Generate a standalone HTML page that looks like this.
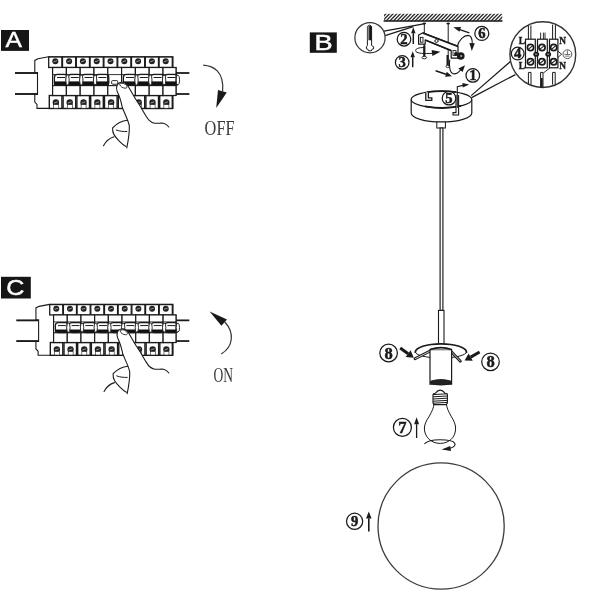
<!DOCTYPE html>
<html lang="en">
<head>
<meta charset="utf-8">
<title>Pendant lamp installation</title>
<style>
html,body{margin:0;padding:0;background:#fff;}
body{width:600px;height:600px;overflow:hidden;font-family:"Liberation Sans",sans-serif;}
svg{display:block;will-change:transform;}
</style>
</head>
<body>
<svg width="600" height="600" viewBox="0 0 600 600">
<rect x="0" y="0" width="600" height="600" fill="#ffffff"/>
<g id="stepA">
<g transform="translate(0,0)">
<line x1="15" y1="73" x2="37.5" y2="73" stroke="#1a1a1a" stroke-width="1.9"/>
<line x1="176" y1="73" x2="189.4" y2="73" stroke="#1a1a1a" stroke-width="1.8"/>
<line x1="15" y1="94" x2="37.5" y2="94" stroke="#1a1a1a" stroke-width="1.9"/>
<line x1="176" y1="94" x2="189.4" y2="94" stroke="#1a1a1a" stroke-width="1.8"/>
<path d="M48.5 56.8 L38 58.8 L34.8 60.4 L34.8 72.5 L37.5 72.5 L37.5 94.5 L34.8 94.5 L34.8 102 L37 104.4 L37 108.4 L173 108.4 L173 95.5 L176 95.5 L176 67.5 L173 67.5 L173 56.8 Z" fill="#fff" stroke="#1a1a1a" stroke-width="1.1"/>
<rect x="48.7" y="57" width="13.2" height="10.5" fill="#fff" stroke="#1a1a1a" stroke-width="1.3"/>
<circle cx="55.3" cy="61.2" r="3" fill="#222"/>
<line x1="53.5" y1="61.8" x2="57.1" y2="60.6" stroke="#ccc" stroke-width="0.7"/>
<rect x="49.3" y="95.5" width="12.6" height="13" fill="#fff" stroke="#1a1a1a" stroke-width="1.4"/>
<circle cx="55.9" cy="102.4" r="3.2" fill="#222"/>
<line x1="54.1" y1="103" x2="57.7" y2="101.8" stroke="#ccc" stroke-width="0.7"/>
<rect x="53.5" y="104.6" width="5" height="3.6" fill="#fff" stroke="#1a1a1a" stroke-width="0.6"/>
<rect x="62.5" y="57" width="13.2" height="10.5" fill="#fff" stroke="#1a1a1a" stroke-width="1.3"/>
<circle cx="69.1" cy="61.2" r="3" fill="#222"/>
<line x1="67.3" y1="61.8" x2="70.9" y2="60.6" stroke="#ccc" stroke-width="0.7"/>
<rect x="63.1" y="95.5" width="12.6" height="13" fill="#fff" stroke="#1a1a1a" stroke-width="1.4"/>
<circle cx="69.7" cy="102.4" r="3.2" fill="#222"/>
<line x1="67.9" y1="103" x2="71.5" y2="101.8" stroke="#ccc" stroke-width="0.7"/>
<rect x="67.3" y="104.6" width="5" height="3.6" fill="#fff" stroke="#1a1a1a" stroke-width="0.6"/>
<rect x="76.3" y="57" width="13.2" height="10.5" fill="#fff" stroke="#1a1a1a" stroke-width="1.3"/>
<circle cx="82.9" cy="61.2" r="3" fill="#222"/>
<line x1="81.1" y1="61.8" x2="84.7" y2="60.6" stroke="#ccc" stroke-width="0.7"/>
<rect x="76.9" y="95.5" width="12.6" height="13" fill="#fff" stroke="#1a1a1a" stroke-width="1.4"/>
<circle cx="83.5" cy="102.4" r="3.2" fill="#222"/>
<line x1="81.7" y1="103" x2="85.3" y2="101.8" stroke="#ccc" stroke-width="0.7"/>
<rect x="81.1" y="104.6" width="5" height="3.6" fill="#fff" stroke="#1a1a1a" stroke-width="0.6"/>
<rect x="90.1" y="57" width="13.2" height="10.5" fill="#fff" stroke="#1a1a1a" stroke-width="1.3"/>
<circle cx="96.7" cy="61.2" r="3" fill="#222"/>
<line x1="94.9" y1="61.8" x2="98.5" y2="60.6" stroke="#ccc" stroke-width="0.7"/>
<rect x="90.7" y="95.5" width="12.6" height="13" fill="#fff" stroke="#1a1a1a" stroke-width="1.4"/>
<circle cx="97.3" cy="102.4" r="3.2" fill="#222"/>
<line x1="95.5" y1="103" x2="99.1" y2="101.8" stroke="#ccc" stroke-width="0.7"/>
<rect x="94.9" y="104.6" width="5" height="3.6" fill="#fff" stroke="#1a1a1a" stroke-width="0.6"/>
<rect x="103.9" y="57" width="13.2" height="10.5" fill="#fff" stroke="#1a1a1a" stroke-width="1.3"/>
<circle cx="110.5" cy="61.2" r="3" fill="#222"/>
<line x1="108.7" y1="61.8" x2="112.3" y2="60.6" stroke="#ccc" stroke-width="0.7"/>
<rect x="104.5" y="95.5" width="12.6" height="13" fill="#fff" stroke="#1a1a1a" stroke-width="1.4"/>
<circle cx="111.1" cy="102.4" r="3.2" fill="#222"/>
<line x1="109.3" y1="103" x2="112.9" y2="101.8" stroke="#ccc" stroke-width="0.7"/>
<rect x="108.7" y="104.6" width="5" height="3.6" fill="#fff" stroke="#1a1a1a" stroke-width="0.6"/>
<rect x="117.7" y="57" width="13.2" height="10.5" fill="#fff" stroke="#1a1a1a" stroke-width="1.3"/>
<circle cx="124.3" cy="61.2" r="3" fill="#222"/>
<line x1="122.5" y1="61.8" x2="126.1" y2="60.6" stroke="#ccc" stroke-width="0.7"/>
<rect x="118.3" y="95.5" width="12.6" height="13" fill="#fff" stroke="#1a1a1a" stroke-width="1.4"/>
<circle cx="124.9" cy="102.4" r="3.2" fill="#222"/>
<line x1="123.1" y1="103" x2="126.7" y2="101.8" stroke="#ccc" stroke-width="0.7"/>
<rect x="122.5" y="104.6" width="5" height="3.6" fill="#fff" stroke="#1a1a1a" stroke-width="0.6"/>
<rect x="131.5" y="57" width="13.2" height="10.5" fill="#fff" stroke="#1a1a1a" stroke-width="1.3"/>
<circle cx="138.1" cy="61.2" r="3" fill="#222"/>
<line x1="136.3" y1="61.8" x2="139.9" y2="60.6" stroke="#ccc" stroke-width="0.7"/>
<rect x="132.1" y="95.5" width="12.6" height="13" fill="#fff" stroke="#1a1a1a" stroke-width="1.4"/>
<circle cx="138.7" cy="102.4" r="3.2" fill="#222"/>
<line x1="136.9" y1="103" x2="140.5" y2="101.8" stroke="#ccc" stroke-width="0.7"/>
<rect x="136.3" y="104.6" width="5" height="3.6" fill="#fff" stroke="#1a1a1a" stroke-width="0.6"/>
<rect x="145.3" y="57" width="13.2" height="10.5" fill="#fff" stroke="#1a1a1a" stroke-width="1.3"/>
<circle cx="151.9" cy="61.2" r="3" fill="#222"/>
<line x1="150.1" y1="61.8" x2="153.7" y2="60.6" stroke="#ccc" stroke-width="0.7"/>
<rect x="145.9" y="95.5" width="12.6" height="13" fill="#fff" stroke="#1a1a1a" stroke-width="1.4"/>
<circle cx="152.5" cy="102.4" r="3.2" fill="#222"/>
<line x1="150.7" y1="103" x2="154.3" y2="101.8" stroke="#ccc" stroke-width="0.7"/>
<rect x="150.1" y="104.6" width="5" height="3.6" fill="#fff" stroke="#1a1a1a" stroke-width="0.6"/>
<rect x="159.1" y="57" width="13.2" height="10.5" fill="#fff" stroke="#1a1a1a" stroke-width="1.3"/>
<circle cx="165.7" cy="61.2" r="3" fill="#222"/>
<line x1="163.9" y1="61.8" x2="167.5" y2="60.6" stroke="#ccc" stroke-width="0.7"/>
<rect x="159.7" y="95.5" width="12.6" height="13" fill="#fff" stroke="#1a1a1a" stroke-width="1.4"/>
<circle cx="166.3" cy="102.4" r="3.2" fill="#222"/>
<line x1="164.5" y1="103" x2="168.1" y2="101.8" stroke="#ccc" stroke-width="0.7"/>
<rect x="163.9" y="104.6" width="5" height="3.6" fill="#fff" stroke="#1a1a1a" stroke-width="0.6"/>
<rect x="52.6" y="67.5" width="13.8" height="28" fill="#fff" stroke="#1a1a1a" stroke-width="1.2"/>
<line x1="52.6" y1="74.6" x2="66.4" y2="74.6" stroke="#1a1a1a" stroke-width="0.9"/>
<line x1="52.6" y1="85.6" x2="66.4" y2="85.6" stroke="#1a1a1a" stroke-width="1.1"/>
<rect x="66.4" y="67.5" width="13.8" height="28" fill="#fff" stroke="#1a1a1a" stroke-width="1.2"/>
<line x1="66.4" y1="74.6" x2="80.2" y2="74.6" stroke="#1a1a1a" stroke-width="0.9"/>
<line x1="66.4" y1="85.6" x2="80.2" y2="85.6" stroke="#1a1a1a" stroke-width="1.1"/>
<rect x="80.2" y="67.5" width="13.8" height="28" fill="#fff" stroke="#1a1a1a" stroke-width="1.2"/>
<line x1="80.2" y1="74.6" x2="94.0" y2="74.6" stroke="#1a1a1a" stroke-width="0.9"/>
<line x1="80.2" y1="85.6" x2="94.0" y2="85.6" stroke="#1a1a1a" stroke-width="1.1"/>
<rect x="94.0" y="67.5" width="13.8" height="28" fill="#fff" stroke="#1a1a1a" stroke-width="1.2"/>
<line x1="94.0" y1="74.6" x2="107.8" y2="74.6" stroke="#1a1a1a" stroke-width="0.9"/>
<line x1="94.0" y1="85.6" x2="107.8" y2="85.6" stroke="#1a1a1a" stroke-width="1.1"/>
<rect x="107.8" y="67.5" width="13.8" height="28" fill="#fff" stroke="#1a1a1a" stroke-width="1.2"/>
<line x1="107.8" y1="74.6" x2="121.6" y2="74.6" stroke="#1a1a1a" stroke-width="0.9"/>
<line x1="107.8" y1="85.6" x2="121.6" y2="85.6" stroke="#1a1a1a" stroke-width="1.1"/>
<rect x="121.6" y="67.5" width="13.8" height="28" fill="#fff" stroke="#1a1a1a" stroke-width="1.2"/>
<line x1="121.6" y1="74.6" x2="135.4" y2="74.6" stroke="#1a1a1a" stroke-width="0.9"/>
<line x1="121.6" y1="85.6" x2="135.4" y2="85.6" stroke="#1a1a1a" stroke-width="1.1"/>
<rect x="135.4" y="67.5" width="13.8" height="28" fill="#fff" stroke="#1a1a1a" stroke-width="1.2"/>
<line x1="135.4" y1="74.6" x2="149.2" y2="74.6" stroke="#1a1a1a" stroke-width="0.9"/>
<line x1="135.4" y1="85.6" x2="149.2" y2="85.6" stroke="#1a1a1a" stroke-width="1.1"/>
<rect x="149.2" y="67.5" width="13.8" height="28" fill="#fff" stroke="#1a1a1a" stroke-width="1.2"/>
<line x1="149.2" y1="74.6" x2="163.0" y2="74.6" stroke="#1a1a1a" stroke-width="0.9"/>
<line x1="149.2" y1="85.6" x2="163.0" y2="85.6" stroke="#1a1a1a" stroke-width="1.1"/>
<rect x="163.0" y="67.5" width="13.0" height="28" fill="#fff" stroke="#1a1a1a" stroke-width="1.2"/>
<line x1="163.0" y1="74.6" x2="176.0" y2="74.6" stroke="#1a1a1a" stroke-width="0.9"/>
<line x1="163.0" y1="85.6" x2="176.0" y2="85.6" stroke="#1a1a1a" stroke-width="1.1"/>
<rect x="54.0" y="81.4" width="13.6" height="3.9" fill="#111"/>
<rect x="54.4" y="74.4" width="13" height="11.0" rx="3" fill="none" stroke="#1a1a1a" stroke-width="1.3"/>
<line x1="57.0" y1="77.5" x2="65.0" y2="77.5" stroke="#1a1a1a" stroke-width="1"/>
<rect x="67.8" y="81.4" width="13.6" height="3.9" fill="#111"/>
<rect x="68.2" y="74.4" width="13" height="11.0" rx="3" fill="none" stroke="#1a1a1a" stroke-width="1.3"/>
<line x1="70.8" y1="77.5" x2="78.8" y2="77.5" stroke="#1a1a1a" stroke-width="1"/>
<rect x="81.6" y="81.4" width="13.6" height="3.9" fill="#111"/>
<rect x="82.0" y="74.4" width="13" height="11.0" rx="3" fill="none" stroke="#1a1a1a" stroke-width="1.3"/>
<line x1="84.6" y1="77.5" x2="92.6" y2="77.5" stroke="#1a1a1a" stroke-width="1"/>
<rect x="95.4" y="81.4" width="13.6" height="3.9" fill="#111"/>
<rect x="95.8" y="74.4" width="13" height="11.0" rx="3" fill="none" stroke="#1a1a1a" stroke-width="1.3"/>
<line x1="98.4" y1="77.5" x2="106.4" y2="77.5" stroke="#1a1a1a" stroke-width="1"/>
<rect x="111.6" y="80.6" width="6.2" height="3.6" rx="1" fill="#fff" stroke="#1a1a1a" stroke-width="0.9"/>
<rect x="123.0" y="81.4" width="13.6" height="3.9" fill="#111"/>
<rect x="123.4" y="74.4" width="13" height="11.0" rx="3" fill="none" stroke="#1a1a1a" stroke-width="1.3"/>
<line x1="126.0" y1="77.5" x2="134.0" y2="77.5" stroke="#1a1a1a" stroke-width="1"/>
<rect x="136.8" y="81.4" width="13.6" height="3.9" fill="#111"/>
<rect x="137.2" y="74.4" width="13" height="11.0" rx="3" fill="none" stroke="#1a1a1a" stroke-width="1.3"/>
<line x1="139.8" y1="77.5" x2="147.8" y2="77.5" stroke="#1a1a1a" stroke-width="1"/>
<rect x="150.6" y="81.4" width="13.6" height="3.9" fill="#111"/>
<rect x="151.0" y="74.4" width="13" height="11.0" rx="3" fill="none" stroke="#1a1a1a" stroke-width="1.3"/>
<line x1="153.6" y1="77.5" x2="161.6" y2="77.5" stroke="#1a1a1a" stroke-width="1"/>
<rect x="164.4" y="81.4" width="13.6" height="3.9" fill="#111"/>
<rect x="164.8" y="74.4" width="13" height="11.0" rx="3" fill="none" stroke="#1a1a1a" stroke-width="1.3"/>
<line x1="167.4" y1="77.5" x2="175.4" y2="77.5" stroke="#1a1a1a" stroke-width="1"/>
<ellipse cx="67.5" cy="80" rx="1.7" ry="4.9" fill="#fff" stroke="#1a1a1a" stroke-width="0.9"/>
<ellipse cx="81.3" cy="80" rx="1.7" ry="4.9" fill="#fff" stroke="#1a1a1a" stroke-width="0.9"/>
<ellipse cx="95.1" cy="80" rx="1.7" ry="4.9" fill="#fff" stroke="#1a1a1a" stroke-width="0.9"/>
<ellipse cx="136.5" cy="80" rx="1.7" ry="4.9" fill="#fff" stroke="#1a1a1a" stroke-width="0.9"/>
<ellipse cx="150.3" cy="80" rx="1.7" ry="4.9" fill="#fff" stroke="#1a1a1a" stroke-width="0.9"/>
<ellipse cx="164.1" cy="80" rx="1.7" ry="4.9" fill="#fff" stroke="#1a1a1a" stroke-width="0.9"/>
<ellipse cx="177.9" cy="80" rx="1.7" ry="4.9" fill="#fff" stroke="#1a1a1a" stroke-width="0.9"/>
<g transform="translate(0,0)">
<path d="M126.8 148 C128.4 140 129.6 131 129.3 125.5 C128 120 124.5 113 122.3 107.5 C121 101 120 97 117.2 91.5 C115.6 87 117 83.5 120 82.6 C123 81.6 126 83 128 86 C130 89.5 131.5 92 133.5 95.5 C136 100 139 104 141 107.5 C143 111 144.5 114 146.3 116.5 C148 119.5 151 122.5 154.5 123.2 C158 123.6 161 122.8 163.5 123.3 C166 124 167.6 125.4 168.8 127 L168.8 150 Z" fill="#fff" stroke="none"/>
<path d="M127.5 120.2 C123 120.6 117.5 122.6 112.6 127.8 C112.4 131 113 133 114 134.6 C116 138 122 144.5 126 146.6 Z" fill="#fff" stroke="none"/>
<path d="M126.8 148 C128.4 140 129.6 131 129.3 125.5 C128 120 124.5 113 122.3 107.5 C121 101 120 97 117.2 91.5 C115.6 87 117 83.5 120 82.6 C123 81.6 126 83 128 86 C130 89.5 131.5 92 133.5 95.5 C136 100 139 104 141 107.5 C143 111 144.5 114 146.3 116.5 C148 119.5 151 122.5 154.5 123.2 C158 123.6 161 122.8 163.5 123.3 C166 124 167.6 125.4 168.8 127" fill="none" stroke="#1a1a1a" stroke-width="1.1" stroke-linejoin="round" stroke-linecap="round"/>
<path d="M127.5 120.2 C123 120.6 117.5 122.6 112.6 127.8 C112.4 131 113 133 114 134.6 C116 138 122 144.5 126 146.6" fill="none" stroke="#1a1a1a" stroke-width="1.1" stroke-linecap="round"/>
<path d="M116.3 130 C120 131.4 123 131.6 126.8 131.5" fill="none" stroke="#1a1a1a" stroke-width="1" stroke-linecap="round"/>
<path d="M114 136.8 C110 138 106 141 103.5 145.8" fill="none" stroke="#1a1a1a" stroke-width="1.1" stroke-linecap="round"/>
<path d="M119.6 84.4 C121 82.6 124.6 83 126.6 85.6 C127.6 87.2 126.8 88.4 125 88.2 C122.6 88 120.4 86.6 119.6 84.4 Z" fill="#fff" stroke="#1a1a1a" stroke-width="0.9"/>
</g>
</g>
<rect x="1" y="30" width="28" height="20.9" fill="#161616"/><text x="0" y="0" transform="translate(13.6,47.4) scale(1.1,1)" font-family="'Liberation Sans', sans-serif" font-size="22.4" fill="#fff" stroke="#fff" stroke-width="0.45" text-anchor="middle">A</text>
<path d="M203.2 65.2 C213 66 224.4 71 222.6 91.4" fill="none" stroke="#333" stroke-width="1.2"/>
<polygon points="216.2,108 218,90 226.8,92.6" fill="#1a1a1a"/>
<text transform="translate(204.6,135.2) scale(0.76,1)" font-family="'Liberation Serif', serif" font-size="21.5" fill="#3a3a3a">OFF</text>
</g>
<g id="stepC">
<g transform="translate(176,330.7) scale(0.992,0.985) translate(-176,-83.5)">
<line x1="15" y1="73" x2="37.5" y2="73" stroke="#1a1a1a" stroke-width="1.9"/>
<line x1="176" y1="73" x2="189.4" y2="73" stroke="#1a1a1a" stroke-width="1.8"/>
<line x1="15" y1="94" x2="37.5" y2="94" stroke="#1a1a1a" stroke-width="1.9"/>
<line x1="176" y1="94" x2="189.4" y2="94" stroke="#1a1a1a" stroke-width="1.8"/>
<path d="M48.5 56.8 L38 58.8 L34.8 60.4 L34.8 72.5 L37.5 72.5 L37.5 94.5 L34.8 94.5 L34.8 102 L37 104.4 L37 108.4 L173 108.4 L173 95.5 L176 95.5 L176 67.5 L173 67.5 L173 56.8 Z" fill="#fff" stroke="#1a1a1a" stroke-width="1.1"/>
<rect x="48.7" y="57" width="13.2" height="10.5" fill="#fff" stroke="#1a1a1a" stroke-width="1.3"/>
<circle cx="55.3" cy="61.2" r="3" fill="#222"/>
<line x1="53.5" y1="61.8" x2="57.1" y2="60.6" stroke="#ccc" stroke-width="0.7"/>
<rect x="49.3" y="95.5" width="12.6" height="13" fill="#fff" stroke="#1a1a1a" stroke-width="1.4"/>
<circle cx="55.9" cy="102.4" r="3.2" fill="#222"/>
<line x1="54.1" y1="103" x2="57.7" y2="101.8" stroke="#ccc" stroke-width="0.7"/>
<rect x="53.5" y="104.6" width="5" height="3.6" fill="#fff" stroke="#1a1a1a" stroke-width="0.6"/>
<rect x="62.5" y="57" width="13.2" height="10.5" fill="#fff" stroke="#1a1a1a" stroke-width="1.3"/>
<circle cx="69.1" cy="61.2" r="3" fill="#222"/>
<line x1="67.3" y1="61.8" x2="70.9" y2="60.6" stroke="#ccc" stroke-width="0.7"/>
<rect x="63.1" y="95.5" width="12.6" height="13" fill="#fff" stroke="#1a1a1a" stroke-width="1.4"/>
<circle cx="69.7" cy="102.4" r="3.2" fill="#222"/>
<line x1="67.9" y1="103" x2="71.5" y2="101.8" stroke="#ccc" stroke-width="0.7"/>
<rect x="67.3" y="104.6" width="5" height="3.6" fill="#fff" stroke="#1a1a1a" stroke-width="0.6"/>
<rect x="76.3" y="57" width="13.2" height="10.5" fill="#fff" stroke="#1a1a1a" stroke-width="1.3"/>
<circle cx="82.9" cy="61.2" r="3" fill="#222"/>
<line x1="81.1" y1="61.8" x2="84.7" y2="60.6" stroke="#ccc" stroke-width="0.7"/>
<rect x="76.9" y="95.5" width="12.6" height="13" fill="#fff" stroke="#1a1a1a" stroke-width="1.4"/>
<circle cx="83.5" cy="102.4" r="3.2" fill="#222"/>
<line x1="81.7" y1="103" x2="85.3" y2="101.8" stroke="#ccc" stroke-width="0.7"/>
<rect x="81.1" y="104.6" width="5" height="3.6" fill="#fff" stroke="#1a1a1a" stroke-width="0.6"/>
<rect x="90.1" y="57" width="13.2" height="10.5" fill="#fff" stroke="#1a1a1a" stroke-width="1.3"/>
<circle cx="96.7" cy="61.2" r="3" fill="#222"/>
<line x1="94.9" y1="61.8" x2="98.5" y2="60.6" stroke="#ccc" stroke-width="0.7"/>
<rect x="90.7" y="95.5" width="12.6" height="13" fill="#fff" stroke="#1a1a1a" stroke-width="1.4"/>
<circle cx="97.3" cy="102.4" r="3.2" fill="#222"/>
<line x1="95.5" y1="103" x2="99.1" y2="101.8" stroke="#ccc" stroke-width="0.7"/>
<rect x="94.9" y="104.6" width="5" height="3.6" fill="#fff" stroke="#1a1a1a" stroke-width="0.6"/>
<rect x="103.9" y="57" width="13.2" height="10.5" fill="#fff" stroke="#1a1a1a" stroke-width="1.3"/>
<circle cx="110.5" cy="61.2" r="3" fill="#222"/>
<line x1="108.7" y1="61.8" x2="112.3" y2="60.6" stroke="#ccc" stroke-width="0.7"/>
<rect x="104.5" y="95.5" width="12.6" height="13" fill="#fff" stroke="#1a1a1a" stroke-width="1.4"/>
<circle cx="111.1" cy="102.4" r="3.2" fill="#222"/>
<line x1="109.3" y1="103" x2="112.9" y2="101.8" stroke="#ccc" stroke-width="0.7"/>
<rect x="108.7" y="104.6" width="5" height="3.6" fill="#fff" stroke="#1a1a1a" stroke-width="0.6"/>
<rect x="117.7" y="57" width="13.2" height="10.5" fill="#fff" stroke="#1a1a1a" stroke-width="1.3"/>
<circle cx="124.3" cy="61.2" r="3" fill="#222"/>
<line x1="122.5" y1="61.8" x2="126.1" y2="60.6" stroke="#ccc" stroke-width="0.7"/>
<rect x="118.3" y="95.5" width="12.6" height="13" fill="#fff" stroke="#1a1a1a" stroke-width="1.4"/>
<circle cx="124.9" cy="102.4" r="3.2" fill="#222"/>
<line x1="123.1" y1="103" x2="126.7" y2="101.8" stroke="#ccc" stroke-width="0.7"/>
<rect x="122.5" y="104.6" width="5" height="3.6" fill="#fff" stroke="#1a1a1a" stroke-width="0.6"/>
<rect x="131.5" y="57" width="13.2" height="10.5" fill="#fff" stroke="#1a1a1a" stroke-width="1.3"/>
<circle cx="138.1" cy="61.2" r="3" fill="#222"/>
<line x1="136.3" y1="61.8" x2="139.9" y2="60.6" stroke="#ccc" stroke-width="0.7"/>
<rect x="132.1" y="95.5" width="12.6" height="13" fill="#fff" stroke="#1a1a1a" stroke-width="1.4"/>
<circle cx="138.7" cy="102.4" r="3.2" fill="#222"/>
<line x1="136.9" y1="103" x2="140.5" y2="101.8" stroke="#ccc" stroke-width="0.7"/>
<rect x="136.3" y="104.6" width="5" height="3.6" fill="#fff" stroke="#1a1a1a" stroke-width="0.6"/>
<rect x="145.3" y="57" width="13.2" height="10.5" fill="#fff" stroke="#1a1a1a" stroke-width="1.3"/>
<circle cx="151.9" cy="61.2" r="3" fill="#222"/>
<line x1="150.1" y1="61.8" x2="153.7" y2="60.6" stroke="#ccc" stroke-width="0.7"/>
<rect x="145.9" y="95.5" width="12.6" height="13" fill="#fff" stroke="#1a1a1a" stroke-width="1.4"/>
<circle cx="152.5" cy="102.4" r="3.2" fill="#222"/>
<line x1="150.7" y1="103" x2="154.3" y2="101.8" stroke="#ccc" stroke-width="0.7"/>
<rect x="150.1" y="104.6" width="5" height="3.6" fill="#fff" stroke="#1a1a1a" stroke-width="0.6"/>
<rect x="159.1" y="57" width="13.2" height="10.5" fill="#fff" stroke="#1a1a1a" stroke-width="1.3"/>
<circle cx="165.7" cy="61.2" r="3" fill="#222"/>
<line x1="163.9" y1="61.8" x2="167.5" y2="60.6" stroke="#ccc" stroke-width="0.7"/>
<rect x="159.7" y="95.5" width="12.6" height="13" fill="#fff" stroke="#1a1a1a" stroke-width="1.4"/>
<circle cx="166.3" cy="102.4" r="3.2" fill="#222"/>
<line x1="164.5" y1="103" x2="168.1" y2="101.8" stroke="#ccc" stroke-width="0.7"/>
<rect x="163.9" y="104.6" width="5" height="3.6" fill="#fff" stroke="#1a1a1a" stroke-width="0.6"/>
<rect x="52.6" y="67.5" width="13.8" height="28" fill="#fff" stroke="#1a1a1a" stroke-width="1.2"/>
<line x1="52.6" y1="74.6" x2="66.4" y2="74.6" stroke="#1a1a1a" stroke-width="0.9"/>
<line x1="52.6" y1="85.6" x2="66.4" y2="85.6" stroke="#1a1a1a" stroke-width="1.1"/>
<rect x="66.4" y="67.5" width="13.8" height="28" fill="#fff" stroke="#1a1a1a" stroke-width="1.2"/>
<line x1="66.4" y1="74.6" x2="80.2" y2="74.6" stroke="#1a1a1a" stroke-width="0.9"/>
<line x1="66.4" y1="85.6" x2="80.2" y2="85.6" stroke="#1a1a1a" stroke-width="1.1"/>
<rect x="80.2" y="67.5" width="13.8" height="28" fill="#fff" stroke="#1a1a1a" stroke-width="1.2"/>
<line x1="80.2" y1="74.6" x2="94.0" y2="74.6" stroke="#1a1a1a" stroke-width="0.9"/>
<line x1="80.2" y1="85.6" x2="94.0" y2="85.6" stroke="#1a1a1a" stroke-width="1.1"/>
<rect x="94.0" y="67.5" width="13.8" height="28" fill="#fff" stroke="#1a1a1a" stroke-width="1.2"/>
<line x1="94.0" y1="74.6" x2="107.8" y2="74.6" stroke="#1a1a1a" stroke-width="0.9"/>
<line x1="94.0" y1="85.6" x2="107.8" y2="85.6" stroke="#1a1a1a" stroke-width="1.1"/>
<rect x="107.8" y="67.5" width="13.8" height="28" fill="#fff" stroke="#1a1a1a" stroke-width="1.2"/>
<line x1="107.8" y1="74.6" x2="121.6" y2="74.6" stroke="#1a1a1a" stroke-width="0.9"/>
<line x1="107.8" y1="85.6" x2="121.6" y2="85.6" stroke="#1a1a1a" stroke-width="1.1"/>
<rect x="121.6" y="67.5" width="13.8" height="28" fill="#fff" stroke="#1a1a1a" stroke-width="1.2"/>
<line x1="121.6" y1="74.6" x2="135.4" y2="74.6" stroke="#1a1a1a" stroke-width="0.9"/>
<line x1="121.6" y1="85.6" x2="135.4" y2="85.6" stroke="#1a1a1a" stroke-width="1.1"/>
<rect x="135.4" y="67.5" width="13.8" height="28" fill="#fff" stroke="#1a1a1a" stroke-width="1.2"/>
<line x1="135.4" y1="74.6" x2="149.2" y2="74.6" stroke="#1a1a1a" stroke-width="0.9"/>
<line x1="135.4" y1="85.6" x2="149.2" y2="85.6" stroke="#1a1a1a" stroke-width="1.1"/>
<rect x="149.2" y="67.5" width="13.8" height="28" fill="#fff" stroke="#1a1a1a" stroke-width="1.2"/>
<line x1="149.2" y1="74.6" x2="163.0" y2="74.6" stroke="#1a1a1a" stroke-width="0.9"/>
<line x1="149.2" y1="85.6" x2="163.0" y2="85.6" stroke="#1a1a1a" stroke-width="1.1"/>
<rect x="163.0" y="67.5" width="13.0" height="28" fill="#fff" stroke="#1a1a1a" stroke-width="1.2"/>
<line x1="163.0" y1="74.6" x2="176.0" y2="74.6" stroke="#1a1a1a" stroke-width="0.9"/>
<line x1="163.0" y1="85.6" x2="176.0" y2="85.6" stroke="#1a1a1a" stroke-width="1.1"/>
<rect x="54.0" y="82.3" width="13.6" height="3.0" fill="#111"/>
<rect x="54.4" y="75.2" width="13" height="10.2" rx="3" fill="none" stroke="#1a1a1a" stroke-width="1.3"/>
<line x1="57.0" y1="78.3" x2="65.0" y2="78.3" stroke="#1a1a1a" stroke-width="1"/>
<rect x="67.8" y="82.3" width="13.6" height="3.0" fill="#111"/>
<rect x="68.2" y="75.2" width="13" height="10.2" rx="3" fill="none" stroke="#1a1a1a" stroke-width="1.3"/>
<line x1="70.8" y1="78.3" x2="78.8" y2="78.3" stroke="#1a1a1a" stroke-width="1"/>
<rect x="81.6" y="82.3" width="13.6" height="3.0" fill="#111"/>
<rect x="82.0" y="75.2" width="13" height="10.2" rx="3" fill="none" stroke="#1a1a1a" stroke-width="1.3"/>
<line x1="84.6" y1="78.3" x2="92.6" y2="78.3" stroke="#1a1a1a" stroke-width="1"/>
<rect x="95.4" y="82.3" width="13.6" height="3.0" fill="#111"/>
<rect x="95.8" y="75.2" width="13" height="10.2" rx="3" fill="none" stroke="#1a1a1a" stroke-width="1.3"/>
<line x1="98.4" y1="78.3" x2="106.4" y2="78.3" stroke="#1a1a1a" stroke-width="1"/>
<rect x="109.2" y="82.3" width="13.6" height="3.0" fill="#111"/>
<rect x="109.6" y="75.2" width="13" height="10.2" rx="3" fill="none" stroke="#1a1a1a" stroke-width="1.3"/>
<line x1="112.2" y1="78.3" x2="120.2" y2="78.3" stroke="#1a1a1a" stroke-width="1"/>
<rect x="123.0" y="82.3" width="13.6" height="3.0" fill="#111"/>
<rect x="123.4" y="75.2" width="13" height="10.2" rx="3" fill="none" stroke="#1a1a1a" stroke-width="1.3"/>
<line x1="126.0" y1="78.3" x2="134.0" y2="78.3" stroke="#1a1a1a" stroke-width="1"/>
<rect x="136.8" y="82.3" width="13.6" height="3.0" fill="#111"/>
<rect x="137.2" y="75.2" width="13" height="10.2" rx="3" fill="none" stroke="#1a1a1a" stroke-width="1.3"/>
<line x1="139.8" y1="78.3" x2="147.8" y2="78.3" stroke="#1a1a1a" stroke-width="1"/>
<rect x="150.6" y="82.3" width="13.6" height="3.0" fill="#111"/>
<rect x="151.0" y="75.2" width="13" height="10.2" rx="3" fill="none" stroke="#1a1a1a" stroke-width="1.3"/>
<line x1="153.6" y1="78.3" x2="161.6" y2="78.3" stroke="#1a1a1a" stroke-width="1"/>
<rect x="164.4" y="82.3" width="13.6" height="3.0" fill="#111"/>
<rect x="164.8" y="75.2" width="13" height="10.2" rx="3" fill="none" stroke="#1a1a1a" stroke-width="1.3"/>
<line x1="167.4" y1="78.3" x2="175.4" y2="78.3" stroke="#1a1a1a" stroke-width="1"/>
<ellipse cx="67.5" cy="80.4" rx="1.7" ry="4.5" fill="#fff" stroke="#1a1a1a" stroke-width="0.9"/>
<ellipse cx="81.3" cy="80.4" rx="1.7" ry="4.5" fill="#fff" stroke="#1a1a1a" stroke-width="0.9"/>
<ellipse cx="95.1" cy="80.4" rx="1.7" ry="4.5" fill="#fff" stroke="#1a1a1a" stroke-width="0.9"/>
<ellipse cx="108.9" cy="80.4" rx="1.7" ry="4.5" fill="#fff" stroke="#1a1a1a" stroke-width="0.9"/>
<ellipse cx="122.7" cy="80.4" rx="1.7" ry="4.5" fill="#fff" stroke="#1a1a1a" stroke-width="0.9"/>
<ellipse cx="136.5" cy="80.4" rx="1.7" ry="4.5" fill="#fff" stroke="#1a1a1a" stroke-width="0.9"/>
<ellipse cx="150.3" cy="80.4" rx="1.7" ry="4.5" fill="#fff" stroke="#1a1a1a" stroke-width="0.9"/>
<ellipse cx="164.1" cy="80.4" rx="1.7" ry="4.5" fill="#fff" stroke="#1a1a1a" stroke-width="0.9"/>
<ellipse cx="177.9" cy="80.4" rx="1.7" ry="4.5" fill="#fff" stroke="#1a1a1a" stroke-width="0.9"/>
<g transform="translate(0,-0.6)">
<path d="M126.8 148 C128.4 140 129.6 131 129.3 125.5 C128 120 124.5 113 122.3 107.5 C121 101 120 97 117.2 91.5 C115.6 87 117 83.5 120 82.6 C123 81.6 126 83 128 86 C130 89.5 131.5 92 133.5 95.5 C136 100 139 104 141 107.5 C143 111 144.5 114 146.3 116.5 C148 119.5 151 122.5 154.5 123.2 C158 123.6 161 122.8 163.5 123.3 C166 124 167.6 125.4 168.8 127 L168.8 150 Z" fill="#fff" stroke="none"/>
<path d="M127.5 120.2 C123 120.6 117.5 122.6 112.6 127.8 C112.4 131 113 133 114 134.6 C116 138 122 144.5 126 146.6 Z" fill="#fff" stroke="none"/>
<path d="M126.8 148 C128.4 140 129.6 131 129.3 125.5 C128 120 124.5 113 122.3 107.5 C121 101 120 97 117.2 91.5 C115.6 87 117 83.5 120 82.6 C123 81.6 126 83 128 86 C130 89.5 131.5 92 133.5 95.5 C136 100 139 104 141 107.5 C143 111 144.5 114 146.3 116.5 C148 119.5 151 122.5 154.5 123.2 C158 123.6 161 122.8 163.5 123.3 C166 124 167.6 125.4 168.8 127" fill="none" stroke="#1a1a1a" stroke-width="1.1" stroke-linejoin="round" stroke-linecap="round"/>
<path d="M127.5 120.2 C123 120.6 117.5 122.6 112.6 127.8 C112.4 131 113 133 114 134.6 C116 138 122 144.5 126 146.6" fill="none" stroke="#1a1a1a" stroke-width="1.1" stroke-linecap="round"/>
<path d="M116.3 130 C120 131.4 123 131.6 126.8 131.5" fill="none" stroke="#1a1a1a" stroke-width="1" stroke-linecap="round"/>
<path d="M114 136.8 C110 138 106 141 103.5 145.8" fill="none" stroke="#1a1a1a" stroke-width="1.1" stroke-linecap="round"/>
<path d="M119.6 84.4 C121 82.6 124.6 83 126.6 85.6 C127.6 87.2 126.8 88.4 125 88.2 C122.6 88 120.4 86.6 119.6 84.4 Z" fill="#fff" stroke="#1a1a1a" stroke-width="0.9"/>
</g>
</g>
<rect x="1" y="276.8" width="29.8" height="21.7" fill="#161616"/><text x="0" y="0" transform="translate(15.2,295) scale(1.12,1)" font-family="'Liberation Sans', sans-serif" font-size="22.4" fill="#fff" stroke="#fff" stroke-width="0.45" text-anchor="middle">C</text>
<path d="M221.2 354 C233 347 235 333 224.8 322" fill="none" stroke="#333" stroke-width="1.2"/>
<polygon points="209.6,311.4 227,319.4 221.4,325.8" fill="#1a1a1a"/>
<text transform="translate(213.4,381.8) scale(0.66,1)" font-family="'Liberation Serif', serif" font-size="20.5" fill="#3a3a3a">ON</text>
</g>
<g id="stepB">
<rect x="309.8" y="32.4" width="27" height="20.4" fill="#161616"/><text x="0" y="0" transform="translate(323.6,50.4) scale(1.26,1)" font-family="'Liberation Sans', sans-serif" font-size="21.6" fill="#fff" stroke="#fff" stroke-width="0.45" text-anchor="middle">B</text>
<clipPath id="hc"><rect x="384" y="13.7" width="118.2" height="7.6"/></clipPath>
<g stroke="#2a2a2a" stroke-width="1.3" clip-path="url(#hc)">
<line x1="378.0" y1="22" x2="386.6" y2="13"/>
<line x1="381.6" y1="22" x2="390.2" y2="13"/>
<line x1="385.2" y1="22" x2="393.8" y2="13"/>
<line x1="388.9" y1="22" x2="397.5" y2="13"/>
<line x1="392.5" y1="22" x2="401.1" y2="13"/>
<line x1="396.1" y1="22" x2="404.7" y2="13"/>
<line x1="399.7" y1="22" x2="408.3" y2="13"/>
<line x1="403.3" y1="22" x2="411.9" y2="13"/>
<line x1="407.0" y1="22" x2="415.6" y2="13"/>
<line x1="410.6" y1="22" x2="419.2" y2="13"/>
<line x1="414.2" y1="22" x2="422.8" y2="13"/>
<line x1="417.8" y1="22" x2="426.4" y2="13"/>
<line x1="421.4" y1="22" x2="430.0" y2="13"/>
<line x1="425.1" y1="22" x2="433.7" y2="13"/>
<line x1="428.7" y1="22" x2="437.3" y2="13"/>
<line x1="432.3" y1="22" x2="440.9" y2="13"/>
<line x1="435.9" y1="22" x2="444.5" y2="13"/>
<line x1="439.5" y1="22" x2="448.1" y2="13"/>
<line x1="443.2" y1="22" x2="451.8" y2="13"/>
<line x1="446.8" y1="22" x2="455.4" y2="13"/>
<line x1="450.4" y1="22" x2="459.0" y2="13"/>
<line x1="454.0" y1="22" x2="462.6" y2="13"/>
<line x1="457.6" y1="22" x2="466.2" y2="13"/>
<line x1="461.3" y1="22" x2="469.9" y2="13"/>
<line x1="464.9" y1="22" x2="473.5" y2="13"/>
<line x1="468.5" y1="22" x2="477.1" y2="13"/>
<line x1="472.1" y1="22" x2="480.7" y2="13"/>
<line x1="475.7" y1="22" x2="484.3" y2="13"/>
<line x1="479.4" y1="22" x2="488.0" y2="13"/>
<line x1="483.0" y1="22" x2="491.6" y2="13"/>
<line x1="486.6" y1="22" x2="495.2" y2="13"/>
<line x1="490.2" y1="22" x2="498.8" y2="13"/>
<line x1="493.8" y1="22" x2="502.4" y2="13"/>
<line x1="497.5" y1="22" x2="506.1" y2="13"/>
<line x1="501.1" y1="22" x2="509.7" y2="13"/>
</g>
<line x1="383.6" y1="21" x2="502.4" y2="21" stroke="#1a1a1a" stroke-width="1.4"/>
<path d="M411.2 99.5 L411.2 113 A30.3 9 0 0 0 471.8 113 L471.8 99.5" fill="#fff" stroke="#1a1a1a" stroke-width="1.2"/>
<ellipse cx="441.5" cy="99.5" rx="30.3" ry="8.3" fill="#fff" stroke="#1a1a1a" stroke-width="1.2"/>
<path d="M425 106.4 A30.3 8.3 0 0 0 461 105.9" fill="none" stroke="#1a1a1a" stroke-width="1.9"/>
<path d="M427 92.2 A30.3 8.3 0 0 1 456 92.2" fill="none" stroke="#1a1a1a" stroke-width="1.7"/>
<rect x="436.8" y="122" width="8.6" height="6" fill="#fff" stroke="#1a1a1a" stroke-width="1"/>
<rect x="440.1" y="128" width="2.8" height="182.4" fill="#fff" stroke="#222" stroke-width="1.2"/>
<rect x="438.5" y="310.4" width="5.5" height="34" fill="#fff" stroke="#1a1a1a" stroke-width="1.1"/>
<path d="M415.3 351.8 A25.6 6.2 0 0 0 466.5 351.8" fill="#fff" stroke="#1a1a1a" stroke-width="1"/>
<path d="M415.3 352.2 A25.6 8.4 0 0 1 466.5 352.2" fill="#fff" stroke="#1a1a1a" stroke-width="1.8" stroke-linecap="round"/>
<path d="M415 358.8 L433 349.6" stroke="#1a1a1a" stroke-width="2.8" stroke-linecap="round" fill="none"/>
<path d="M415.4 358.6 L433 349.6" stroke="#ddd" stroke-width="0.9" stroke-linecap="round" fill="none"/>
<path d="M450.6 351 L460.4 361.2" stroke="#1a1a1a" stroke-width="2.8" stroke-linecap="round" fill="none"/>
<path d="M451 351.4 L460.2 361" stroke="#ddd" stroke-width="0.9" stroke-linecap="round" fill="none"/>
<rect x="430" y="349.6" width="21.6" height="34.6" fill="#fff" stroke="#1a1a1a" stroke-width="1.2"/>
<path d="M430 349.6 Q441 345.6 451.6 349.6" fill="#fff" stroke="#1a1a1a" stroke-width="1.6"/>
<path d="M430.6 381.2 Q441 378 451 381.2 L451 383.4 Q441 386.6 430.6 383.4 Z" fill="#222" stroke="#1a1a1a" stroke-width="1"/>
<line x1="400.2" y1="348" x2="408.12" y2="353.71" stroke="#1a1a1a" stroke-width="3"/><polygon points="413.80,357.80 405.67,357.12 410.58,350.30" fill="#1a1a1a"/>
<line x1="479.6" y1="352" x2="470.67" y2="357.12" stroke="#1a1a1a" stroke-width="3"/><polygon points="464.60,360.60 468.58,353.47 472.76,360.76" fill="#1a1a1a"/>
<circle cx="388.6" cy="353" r="8.8" fill="#fff" stroke="#1a1a1a" stroke-width="1.25"/><text transform="translate(388.6,358.53) scale(1.0,1)" font-family="'Liberation Serif', serif" font-size="16.5" font-weight="bold" fill="#1a1a1a" stroke="#1a1a1a" stroke-width="0.5" text-anchor="middle">8</text>
<circle cx="490.5" cy="361.8" r="8.8" fill="#fff" stroke="#1a1a1a" stroke-width="1.25"/><text transform="translate(490.5,367.33) scale(1.0,1)" font-family="'Liberation Serif', serif" font-size="16.5" font-weight="bold" fill="#1a1a1a" stroke="#1a1a1a" stroke-width="0.5" text-anchor="middle">8</text>
<path d="M434 403.6 C433.6 408 432.2 411 429.4 416 C426 421 424.2 425 424.4 429 C424.8 437.4 431.4 443.4 440.2 443.4 C449 443.4 455.4 437.4 455.6 429 C455.8 425 454.2 421 451 416 C448.2 411 446.8 408 446.4 403.6 Z" fill="#fff" stroke="#1a1a1a" stroke-width="1"/>
<path d="M433 394.6 Q433 393.4 435.4 393.2 Q440.2 387 445 393.2 Q447.4 393.4 447.4 394.6 L447.4 403 L446 404.6 L434.4 404.6 L433 403 Z" fill="#fff" stroke="#1a1a1a" stroke-width="1.1"/>
<line x1="433" y1="394.6" x2="447.4" y2="393.8" stroke="#1a1a1a" stroke-width="1"/>
<line x1="433" y1="396.8" x2="447.4" y2="396.0" stroke="#1a1a1a" stroke-width="1"/>
<line x1="433" y1="399" x2="447.4" y2="398.2" stroke="#1a1a1a" stroke-width="1"/>
<line x1="433" y1="401.2" x2="447.4" y2="400.4" stroke="#1a1a1a" stroke-width="1"/>
<line x1="433" y1="403.2" x2="447.4" y2="402.4" stroke="#1a1a1a" stroke-width="1"/>
<path d="M424.4 443.8 C427 441 433 439.7 440 439.7 C447.4 439.7 453.4 440.8 454.8 443.2 C455.8 445.2 454 447.2 450 448.2" fill="none" stroke="#1a1a1a" stroke-width="1.1"/>
<polygon points="441.6,449.6 450.2,446 451,451" fill="#1a1a1a"/>
<circle cx="402.4" cy="427.4" r="9" fill="#fff" stroke="#1a1a1a" stroke-width="1.25"/><text transform="translate(402.4,432.93) scale(1.0,1)" font-family="'Liberation Serif', serif" font-size="16.5" font-weight="bold" fill="#1a1a1a" stroke="#1a1a1a" stroke-width="0.5" text-anchor="middle">7</text>
<line x1="416.6" y1="438" x2="416.60" y2="424.20" stroke="#1a1a1a" stroke-width="1.3"/><polygon points="416.60,417.20 419.10,424.20 414.10,424.20" fill="#1a1a1a"/>
<circle cx="441.1" cy="526" r="63.1" fill="none" stroke="#3c3c3c" stroke-width="1.3"/>
<circle cx="354.6" cy="521.3" r="8.1" fill="#fff" stroke="#1a1a1a" stroke-width="1.25"/><text transform="translate(354.6,526.19) scale(1.0,1)" font-family="'Liberation Serif', serif" font-size="14.6" font-weight="bold" fill="#1a1a1a" stroke="#1a1a1a" stroke-width="0.5" text-anchor="middle">9</text>
<line x1="368.8" y1="531.6" x2="368.80" y2="518.40" stroke="#1a1a1a" stroke-width="1.6"/><polygon points="368.80,511.40 371.60,518.40 366.00,518.40" fill="#1a1a1a"/>
</g>
<g id="stepBtop">
<line x1="384" y1="31.2" x2="423.6" y2="23.8" stroke="#1a1a1a" stroke-width="1.2"/>
<line x1="385" y1="35.6" x2="413.3" y2="26.6" stroke="#1a1a1a" stroke-width="1.2"/>
<circle cx="370" cy="37.7" r="15.1" fill="#fff" stroke="#333" stroke-width="1.2"/>
<path d="M367.4 26.4 Q369.6 23.8 371.6 26.4 L371.6 45.6 L373.6 46.8 L373.6 48.8 L372 49.2 L371.4 50.8 L368.4 50.8 L367.8 49.2 L366.4 48.8 L366.4 46.8 L367.4 45.6 Z" fill="#fff" stroke="#1a1a1a" stroke-width="1"/>
<rect x="367.6" y="26" width="2" height="14.2" fill="#888"/>
<path d="M369.2 26.2 Q370 24.6 371.4 26.2 L371.4 40.2 L369.2 40.2 Z" fill="#111"/>
<line x1="424.3" y1="23.5" x2="424.3" y2="56" stroke="#1a1a1a" stroke-width="1"/>
<line x1="448.2" y1="23.5" x2="448.2" y2="66" stroke="#1a1a1a" stroke-width="1"/>
<ellipse cx="424.3" cy="23.6" rx="1.8" ry="1" fill="#1a1a1a"/>
<ellipse cx="448.2" cy="23.6" rx="1.8" ry="1" fill="#1a1a1a"/>
<path d="M418.6 35 L423 32.8 L458 46.2 L458 58.2 L451.2 58.2 L451.2 50.6 L425.2 40 L425.2 44.2 L418.6 44.2 Z" fill="#fff" stroke="#1a1a1a" stroke-width="1.2" stroke-linejoin="round"/>
<path d="M422.6 33 L458 46.5" fill="none" stroke="#1a1a1a" stroke-width="1.7"/>
<path d="M425.2 40 L451 50.5" fill="none" stroke="#1a1a1a" stroke-width="1.4"/>
<rect x="420.4" y="37.4" width="2.6" height="4.8" fill="#fff" stroke="#1a1a1a" stroke-width="0.9"/>
<rect x="453" y="50.4" width="3" height="5" fill="#fff" stroke="#1a1a1a" stroke-width="0.8"/>
<ellipse cx="436.5" cy="41" rx="1.7" ry="1.4" fill="#fff" stroke="#1a1a1a" stroke-width="1"/>
<circle cx="460.8" cy="56" r="3.8" fill="#1a1a1a"/>
<circle cx="456" cy="54" r="2" fill="#1a1a1a"/>
<circle cx="461.2" cy="56" r="1.1" fill="#aaa"/>
<line x1="424.3" y1="45.4" x2="424.3" y2="56.6" stroke="#1a1a1a" stroke-width="2.2"/>
<ellipse cx="424.3" cy="57.6" rx="2.4" ry="1.2" fill="#fff" stroke="#1a1a1a" stroke-width="0.9"/>
<line x1="447.6" y1="55" x2="447.6" y2="65.6" stroke="#1a1a1a" stroke-width="2.2"/>
<ellipse cx="447.6" cy="66.4" rx="1.6" ry="1.2" fill="#fff" stroke="#1a1a1a" stroke-width="0.9"/>
<path d="M424 47.6 C417 47.4 414.6 49.6 416 51.6 C417.6 53.4 424 53.8 432 53.4" fill="none" stroke="#1a1a1a" stroke-width="1"/>
<polygon points="440.4,51.8 431.6,50 432.4,56" fill="#1a1a1a"/>
<circle cx="404" cy="39.2" r="6.8" fill="#fff" stroke="#1a1a1a" stroke-width="1.25"/><text transform="translate(404,44.09) scale(1.0,1)" font-family="'Liberation Serif', serif" font-size="14.6" font-weight="bold" fill="#1a1a1a" stroke="#1a1a1a" stroke-width="0.5" text-anchor="middle">2</text>
<circle cx="402.2" cy="62.4" r="6.8" fill="#fff" stroke="#1a1a1a" stroke-width="1.25"/><text transform="translate(402.2,67.29) scale(1.0,1)" font-family="'Liberation Serif', serif" font-size="14.6" font-weight="bold" fill="#1a1a1a" stroke="#1a1a1a" stroke-width="0.5" text-anchor="middle">3</text>
<line x1="413.3" y1="44" x2="413.30" y2="33.20" stroke="#1a1a1a" stroke-width="1.5"/><polygon points="413.30,27.20 415.50,33.20 411.10,33.20" fill="#1a1a1a"/>
<line x1="412.7" y1="67.2" x2="412.70" y2="57.20" stroke="#1a1a1a" stroke-width="1.5"/><polygon points="412.70,51.20 414.90,57.20 410.50,57.20" fill="#1a1a1a"/>
<path d="M459 29.4 L469.4 32.8" fill="none" stroke="#1a1a1a" stroke-width="1.4"/>
<polygon points="453.4,27.2 461,27 459.4,31.8" fill="#1a1a1a"/>
<path d="M457.4 46 C459 40 464 35.4 468 35.4 C471.4 35.6 472.4 39 472.2 44" fill="none" stroke="#1a1a1a" stroke-width="1.1"/>
<polygon points="471.8,51 469.4,43 474.8,43.2" fill="#1a1a1a"/>
<circle cx="481.8" cy="33.4" r="7" fill="#fff" stroke="#1a1a1a" stroke-width="1.25"/><text transform="translate(481.8,38.29) scale(1.0,1)" font-family="'Liberation Serif', serif" font-size="14.6" font-weight="bold" fill="#1a1a1a" stroke="#1a1a1a" stroke-width="0.5" text-anchor="middle">6</text>
<path d="M449.8 59.6 C448.6 66 450 73 453.4 73.8 C456 74.2 458.6 72.4 460.6 69.8" fill="none" stroke="#1a1a1a" stroke-width="1.1"/>
<polygon points="465,65.2 462.6,72 458.4,68.6" fill="#1a1a1a"/>
<line x1="435.6" y1="70.8" x2="445.92" y2="74.20" stroke="#1a1a1a" stroke-width="1.6"/><polygon points="452.00,76.20 445.11,76.67 446.73,71.73" fill="#1a1a1a"/>
<circle cx="472.8" cy="75.4" r="6.8" fill="#fff" stroke="#1a1a1a" stroke-width="1.25"/><text transform="translate(472.8,80.29) scale(1.0,1)" font-family="'Liberation Serif', serif" font-size="14.6" font-weight="bold" fill="#1a1a1a" stroke="#1a1a1a" stroke-width="0.5" text-anchor="middle">1</text>
<path d="M425.8 92.4 L425.8 100.4 L431.8 100.4 L431.8 97.8 L428.4 97.8 L428.4 92" fill="#fff" stroke="#1a1a1a" stroke-width="1.3"/>
<path d="M456 95 L456 112.6 L453 112.6 L453 115 L458.6 115 L458.6 95" fill="#fff" stroke="#1a1a1a" stroke-width="1.1"/>
<path d="M457.3 108 L457.3 86.6 L463 85.4" fill="none" stroke="#1a1a1a" stroke-width="1.1"/>
<polygon points="469.2,84.6 462.4,83 462.8,87.6" fill="#1a1a1a"/>
<circle cx="449" cy="98.2" r="6.8" fill="#fff" stroke="#1a1a1a" stroke-width="1.25"/><text transform="translate(449,103.09) scale(1.0,1)" font-family="'Liberation Serif', serif" font-size="14.6" font-weight="bold" fill="#1a1a1a" stroke="#1a1a1a" stroke-width="0.5" text-anchor="middle">5</text>
<line x1="471.2" y1="95.6" x2="511" y2="61" stroke="#1a1a1a" stroke-width="1.2"/>
<line x1="471.6" y1="97.6" x2="515.4" y2="74.6" stroke="#1a1a1a" stroke-width="1.2"/>
<circle cx="542.8" cy="54.6" r="32.9" fill="#fff" stroke="#333" stroke-width="1.4"/>
<rect x="525.5" y="39.2" width="9.8" height="28.6" fill="#fff" stroke="#1a1a1a" stroke-width="1.2"/>
<circle cx="530.5" cy="47.5" r="3.1" fill="#fff" stroke="#1a1a1a" stroke-width="1.7"/>
<line x1="528.5" y1="49.1" x2="532.5" y2="45.9" stroke="#1a1a1a" stroke-width="1.1"/>
<circle cx="530.5" cy="61.7" r="3.1" fill="#fff" stroke="#1a1a1a" stroke-width="1.7"/>
<line x1="528.5" y1="63.300000000000004" x2="532.5" y2="60.1" stroke="#1a1a1a" stroke-width="1.1"/>
<rect x="537.5" y="39.2" width="9.8" height="28.6" fill="#fff" stroke="#1a1a1a" stroke-width="1.2"/>
<circle cx="542" cy="47.5" r="3.1" fill="#fff" stroke="#1a1a1a" stroke-width="1.7"/>
<line x1="540" y1="49.1" x2="544" y2="45.9" stroke="#1a1a1a" stroke-width="1.1"/>
<circle cx="542" cy="61.7" r="3.1" fill="#fff" stroke="#1a1a1a" stroke-width="1.7"/>
<line x1="540" y1="63.300000000000004" x2="544" y2="60.1" stroke="#1a1a1a" stroke-width="1.1"/>
<rect x="549.5" y="39.2" width="8.4" height="28.6" fill="#fff" stroke="#1a1a1a" stroke-width="1.2"/>
<circle cx="553.7" cy="47.5" r="3.1" fill="#fff" stroke="#1a1a1a" stroke-width="1.7"/>
<line x1="551.7" y1="49.1" x2="555.7" y2="45.9" stroke="#1a1a1a" stroke-width="1.1"/>
<circle cx="553.7" cy="61.7" r="3.1" fill="#fff" stroke="#1a1a1a" stroke-width="1.7"/>
<line x1="551.7" y1="63.300000000000004" x2="555.7" y2="60.1" stroke="#1a1a1a" stroke-width="1.1"/>
<ellipse cx="536.2" cy="54.2" rx="2.9" ry="2.5" fill="#1a1a1a"/>
<line x1="535.0" y1="54.2" x2="537.4000000000001" y2="54.2" stroke="#ddd" stroke-width="0.7"/>
<ellipse cx="548.2" cy="54.2" rx="2.9" ry="2.5" fill="#1a1a1a"/>
<line x1="547.0" y1="54.2" x2="549.4000000000001" y2="54.2" stroke="#ddd" stroke-width="0.7"/>
<line x1="528.4" y1="25.4" x2="528.4" y2="39.2" stroke="#1a1a1a" stroke-width="1"/>
<line x1="530.9" y1="25.4" x2="530.9" y2="39.2" stroke="#1a1a1a" stroke-width="1"/>
<line x1="552.6" y1="24.6" x2="552.6" y2="39.2" stroke="#1a1a1a" stroke-width="1"/>
<line x1="555.4" y1="24.6" x2="555.4" y2="39.2" stroke="#1a1a1a" stroke-width="1"/>
<line x1="540.6" y1="32.6" x2="540.6" y2="39.2" stroke="#1a1a1a" stroke-width="0.9"/>
<line x1="543.4" y1="32.6" x2="543.4" y2="39.2" stroke="#1a1a1a" stroke-width="0.9"/>
<line x1="545" y1="32.6" x2="545" y2="39.2" stroke="#1a1a1a" stroke-width="0.9"/>
<path d="M528.4 84.6 L528.4 72.4 L531 72.4 L531 84.6" fill="none" stroke="#1a1a1a" stroke-width="1"/>
<path d="M540.6 87.4 L540.6 72.4 L543 72.4 L543 87.4" fill="none" stroke="#1a1a1a" stroke-width="1"/>
<path d="M552.6 84.6 L552.6 72.4 L555.2 72.4 L555.2 84.6" fill="none" stroke="#1a1a1a" stroke-width="1"/>
<line x1="541.8" y1="78" x2="541.8" y2="87.4" stroke="#1a1a1a" stroke-width="1.8"/>
<line x1="550" y1="67.8" x2="543.4" y2="73" stroke="#1a1a1a" stroke-width="0.9"/>
<polygon points="557.9,51.2 561.6,54.2 557.9,57.4" fill="#fff" stroke="#1a1a1a" stroke-width="0.9"/>
<circle cx="567.4" cy="54.2" r="4.4" fill="#fff" stroke="#555" stroke-width="1"/>
<line x1="567.4" y1="50.6" x2="567.4" y2="54.6" stroke="#555" stroke-width="0.9"/>
<line x1="564.4" y1="54.6" x2="570.4" y2="54.6" stroke="#555" stroke-width="0.9"/>
<line x1="565.4" y1="56.2" x2="569.4" y2="56.2" stroke="#555" stroke-width="0.8"/>
<text transform="translate(521.8,43.8) scale(0.85,1)" font-family="'Liberation Serif', serif" font-size="11" font-weight="bold" fill="#1a1a1a" stroke="#1a1a1a" stroke-width="0.4" text-anchor="middle">L</text>
<text transform="translate(521.8,69.2) scale(0.85,1)" font-family="'Liberation Serif', serif" font-size="11" font-weight="bold" fill="#1a1a1a" stroke="#1a1a1a" stroke-width="0.4" text-anchor="middle">L</text>
<text transform="translate(562.6,43.8) scale(0.85,1)" font-family="'Liberation Serif', serif" font-size="11" font-weight="bold" fill="#1a1a1a" stroke="#1a1a1a" stroke-width="0.4" text-anchor="middle">N</text>
<text transform="translate(562.6,69.2) scale(0.85,1)" font-family="'Liberation Serif', serif" font-size="11" font-weight="bold" fill="#1a1a1a" stroke="#1a1a1a" stroke-width="0.4" text-anchor="middle">N</text>
<circle cx="517.7" cy="53.6" r="6.4" fill="#fff" stroke="#1a1a1a" stroke-width="1.25"/><text transform="translate(517.7,58.49) scale(1.0,1)" font-family="'Liberation Serif', serif" font-size="14.6" font-weight="bold" fill="#1a1a1a" stroke="#1a1a1a" stroke-width="0.5" text-anchor="middle">4</text>
</g>
</svg>
</body>
</html>
